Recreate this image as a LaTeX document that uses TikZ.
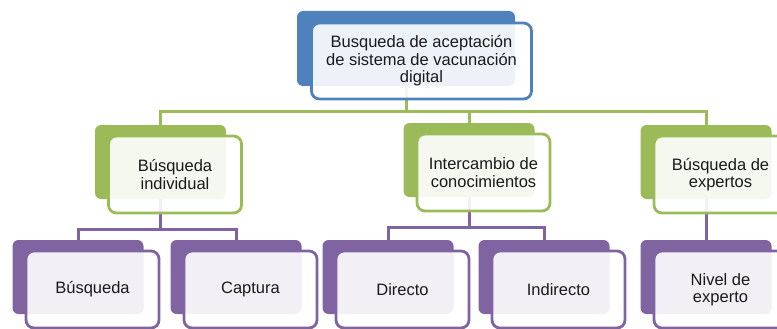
\documentclass[tikz,border=0pt]{standalone}
\usepackage{fontspec}
\setmainfont{Liberation Sans}
\usetikzlibrary{positioning, calc, backgrounds}
\definecolor{cblue}{HTML}{4F81BD}
\definecolor{cgreen}{HTML}{9BBB59}
\definecolor{cpurple}{HTML}{8064A2}
\definecolor{ctext}{HTML}{1A1A1A}
\tikzset{
  every picture/.style={font=\fontsize{16.5}{17.5}\selectfont},
  backbox/.style={fill=#1, rounded corners=6pt, minimum width=131pt, minimum height=74pt, inner sep=0pt},
  frontbox/.style={draw=#1, fill=white, fill opacity=0.9, text opacity=1, text=ctext, line width=2.8pt,
     rounded corners=8pt, minimum width=133pt, minimum height=77pt, align=center, inner sep=0pt},
  link/.style={draw=#1, line width=3pt},
}

\begin{document}
\begin{tikzpicture}[x=1pt, y=-1pt]
  \useasboundingbox (0,0) rectangle (777,329);
  % top
  \node[backbox=cblue, minimum width=218pt, minimum height=75pt] (topb) at (406,48.5) {};
  \node[frontbox=cblue, minimum width=220pt, minimum height=76pt] (top) at ($(topb)+(15.5,12.5)$)
     {Busqueda de aceptación\\de sistema de vacunación\\digital};
  % second row
  \foreach \n/\x/\y/\t in {ind/160.5/162/{Búsqueda\\individual}, con/469/160/{Intercambio de\\conocimientos}, exp/706/162/{Búsqueda de\\expertos}} {
    \node[backbox=cgreen] (\n b) at (\x,\y) {};
    \node[frontbox=cgreen] (\n) at ($(\n b)+(14.5,12.5)$) {\t};
  }
  % third row
  \foreach \n/\x/\t in {bus/78/Búsqueda, cap/236/Captura, dir/388/Directo, indi/544/Indirecto, niv/706/{Nivel de\\experto}} {
    \node[backbox=cpurple] (\n b) at (\x,277) {};
    \node[frontbox=cpurple] (\n) at ($(\n b)+(14.5,12.5)$) {\t};
  }
  \begin{scope}[on background layer]
    \foreach \c in {indb, conb, expb}
      \draw[link=cgreen] (topb.south) -- ++(0,25) -| (\c.north);
    \foreach \c in {busb, capb}
      \draw[link=cpurple] (indb.south) -- ++(0,30) -| (\c.north);
    \foreach \c in {dirb, indib}
      \draw[link=cpurple] (conb.south) -- ++(0,30) -| (\c.north);
    \draw[link=cpurple] (expb.south) -- (nivb.north);
  \end{scope}
\end{tikzpicture}
\end{document}
